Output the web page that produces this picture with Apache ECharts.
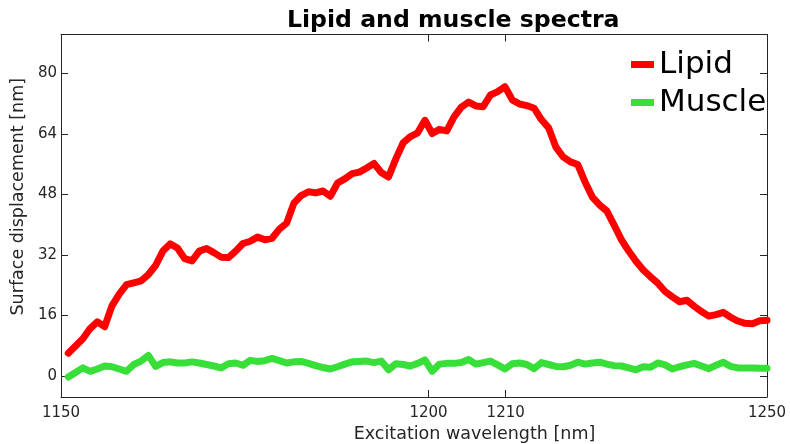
<!DOCTYPE html>
<html>
<head>
<meta charset="utf-8">
<script src="https://cdn.jsdelivr.net/npm/echarts@6/dist/echarts.min.js"></script>
<style>
  html, body { margin: 0; padding: 0; background: #fff; }
  #chart { width: 790px; height: 444px; }
</style>
</head>
<body>
<div id="chart"></div>
<script>
// --- data (sample index 1..97) ---
const lipid = [
  6.0, 7.9, 9.8, 12.5, 14.3, 13.0, 18.5, 21.6, 24.1, 24.6,
  25.1, 26.8, 29.2, 33.0, 34.9, 33.8, 31.0, 30.4, 33.0, 33.7,
  32.6, 31.4, 31.3, 33.0, 35.0, 35.6, 36.7, 36.0, 36.4, 38.8,
  40.4, 45.7, 47.7, 48.7, 48.4, 48.9, 47.5, 51.0, 52.1, 53.5,
  53.9, 55.0, 56.2, 53.8, 52.6, 57.4, 61.6, 63.3, 64.3, 67.6,
  64.1, 65.2, 64.8, 68.5, 71.1, 72.4, 71.4, 71.2, 74.3, 75.2,
  76.5, 73.0, 71.9, 71.5, 70.8, 67.8, 65.6, 60.5, 57.9, 56.6,
  55.9, 51.3, 47.3, 45.2, 43.6, 39.9, 36.0, 33.0, 30.3, 28.0,
  26.2, 24.5, 22.3, 20.9, 19.6, 20.0, 18.4, 17.0, 15.8, 16.2,
  16.8, 15.5, 14.5, 13.9, 13.8, 14.6, 14.7
];
const muscle = [
  -0.3, 0.9, 2.1, 1.2, 1.8, 2.6, 2.4, 1.8, 1.2, 3.0,
  3.9, 5.4, 2.5, 3.5, 3.7, 3.4, 3.4, 3.7, 3.4, 3.0,
  2.6, 2.1, 3.2, 3.4, 2.8, 4.1, 3.8, 4.0, 4.6, 4.0,
  3.4, 3.7, 3.8, 3.3, 2.7, 2.2, 1.8, 2.4, 3.1, 3.7,
  3.8, 3.9, 3.5, 3.9, 1.6, 3.2, 3.0, 2.6, 3.3, 4.2,
  1.2, 3.1, 3.3, 3.3, 3.5, 4.3, 3.1, 3.5, 3.9, 2.9,
  1.8, 3.2, 3.4, 3.0, 1.9, 3.5, 3.0, 2.5, 2.4, 2.8,
  3.6, 3.1, 3.4, 3.6, 3.1, 2.7, 2.6, 2.1, 1.6, 2.4,
  2.3, 3.4, 2.9, 1.8, 2.4, 2.9, 3.3, 2.6, 1.9, 2.8,
  3.6, 2.5, 2.1, 2.1, 2.1, 2.0, 2.0
];

// x tick positions (in sample index) and their wavelength labels
const xTickPos = [0, 50.5, 61.1, 97];
const xTickLabels = ['1150', '1200', '1210', '1250'];
const yTicks = [0, 16, 32, 48, 64, 80];

const FONT = 'DejaVu Sans';
const AXIS_COLOR = '#262626';

const chart = echarts.init(document.getElementById('chart'));

const toPairs = arr => arr.map((v, i) => [i + 1, v]);
const xLabel = v => {
  const i = xTickPos.indexOf(v);
  return i >= 0 ? xTickLabels[i] : '';
};

const xCommon = {
  type: 'value',
  min: 0,
  max: 97,
  axisLine: { show: true, onZero: false, lineStyle: { color: AXIS_COLOR, width: 1 } },
  splitLine: { show: false },
  axisTick: { show: true, inside: true, length: 7, customValues: xTickPos, lineStyle: { color: AXIS_COLOR } }
};
const yCommon = {
  type: 'value',
  min: -5.6,
  max: 90.3,
  axisLine: { show: true, onZero: false, lineStyle: { color: AXIS_COLOR, width: 1 } },
  splitLine: { show: false },
  axisTick: { show: true, inside: true, length: 7, customValues: yTicks, lineStyle: { color: AXIS_COLOR } }
};

chart.setOption({
  animation: false,
  backgroundColor: '#fff',
  title: {
    text: 'Lipid and muscle spectra',
    left: 282,
    top: 4,
    textStyle: { fontFamily: FONT, fontSize: 23.6, fontWeight: 'bold', color: '#000' }
  },
  legend: {
    orient: 'vertical',
    left: 631,
    top: 49,
    padding: 0,
    itemGap: 7,
    itemWidth: 23,
    itemHeight: 7,
    icon: 'rect',
    data: ['Lipid', 'Muscle'],
    textStyle: { fontFamily: FONT, fontSize: 31, color: '#000' }
  },
  grid: { left: 61, right: 23, top: 34.5, bottom: 47, containLabel: false, outerBoundsMode: 'none' },
  xAxis: [
    Object.assign({}, xCommon, {
      position: 'bottom',
      name: 'Excitation wavelength [nm]',
      nameLocation: 'middle',
      nameGap: 27,
      nameTextStyle: { fontFamily: FONT, fontSize: 17.5, color: AXIS_COLOR, padding: [0, 0, 0, 121] },
      axisLabel: {
        customValues: xTickPos,
        formatter: xLabel,
        margin: 9,
        fontFamily: FONT, fontSize: 15, color: AXIS_COLOR
      }
    }),
    Object.assign({}, xCommon, {
      position: 'top',
      axisLabel: { show: false }
    })
  ],
  yAxis: [
    Object.assign({}, yCommon, {
      position: 'left',
      name: 'Surface displacement [nm]',
      nameLocation: 'middle',
      nameGap: 33,
      nameTextStyle: { fontFamily: FONT, fontSize: 17.5, color: AXIS_COLOR, padding: [0, 0, 0, 38] },
      axisLabel: {
        customValues: yTicks,
        margin: 4,
        fontFamily: FONT, fontSize: 15, color: AXIS_COLOR
      }
    }),
    Object.assign({}, yCommon, {
      position: 'right',
      axisLabel: { show: false }
    })
  ],
  series: [
    {
      name: 'Lipid',
      type: 'line',
      data: toPairs(lipid),
      showSymbol: false,
      color: '#ff0000',
      lineStyle: { width: 7, join: 'round', cap: 'round' }
    },
    {
      name: 'Muscle',
      type: 'line',
      data: toPairs(muscle),
      showSymbol: false,
      color: '#38df38',
      lineStyle: { width: 7, join: 'round', cap: 'round' }
    }
  ]
});
</script>
</body>
</html>
